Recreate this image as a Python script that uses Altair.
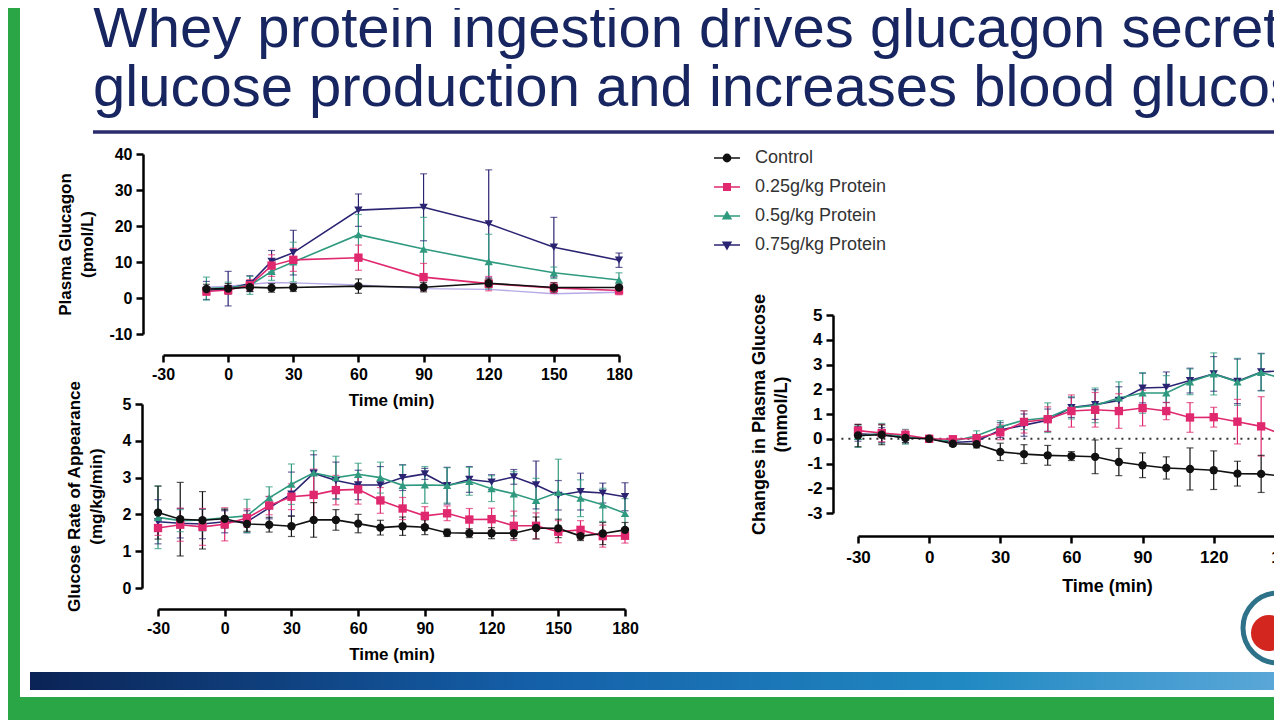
import altair as alt
import pandas as pd

FONT = "Liberation Sans"

# ---------------- data ----------------
groups = ["Control", "0.25g/kg Protein", "0.5g/kg Protein", "0.75g/kg Protein"]
group_colors = ["#111111", "#e0286f", "#2f9a7f", "#2b2473"]
group_shapes = ["circle", "square", "triangle-up", "triangle-down"]
legend_glyphs = [
    "M-1,0H1M0.28,0A0.28,0.28,0,1,1,-0.28,0A0.28,0.28,0,1,1,0.28,0Z",
    "M-1,0H1M-0.25,-0.25H0.25V0.25H-0.25Z",
    "M-1,0H1M0,-0.3L0.3,0.22H-0.3Z",
    "M-1,0H1M0,0.3L0.3,-0.22H-0.3Z",
]
time_ticks = [-30, 0, 30, 60, 90, 120, 150, 180]

title_lines = [
    "Whey protein ingestion drives glucagon secretion,",
    "glucose production and increases blood glucose",
]

# Plasma glucagon (pmol/L)
glucagon_time = [-10, 0, 10, 20, 30, 60, 90, 120, 150, 180]
glucagon_control = [2.5, 2.6, 3.0, 2.8, 2.9, 3.3, 3.0, 4.1, 2.9, 2.9]
glucagon_control_err = [1.3, 1.4, 1.2, 1.2, 1.1, 2.0, 1.3, 1.2, 1.3, 1.0]
glucagon_025 = [1.8, 2.2, 3.6, 9.0, 10.6, 11.2, 5.8, 4.0, 2.8, 2.1]
glucagon_025_err = [1.0, 1.2, 1.5, 3.0, 3.2, 3.5, 3.8, 2.0, 1.5, 1.2]
glucagon_05 = [2.6, 2.9, 3.5, 7.4, 10.0, 17.6, 13.6, 10.1, 7.0, 5.0]
glucagon_05_err = [3.2, 1.5, 2.5, 2.5, 5.5, 5.6, 8.8, 7.6, 1.6, 2.0]
glucagon_075 = [2.1, 2.6, 4.0, 10.2, 12.6, 24.4, 25.2, 20.6, 14.1, 10.5]
glucagon_075_err = [2.5, 4.8, 2.2, 3.0, 6.2, 4.5, 9.3, 15.0, 8.3, 2.0]
glucagon_faint = [3.0, 3.3, 3.8, 4.3, 4.2, 3.6, 2.6, 2.4, 1.2, 1.6]

# Glucose rate of appearance (mg/kg/min)
ra_time = [-30, -20, -10, 0, 10, 20, 30, 40, 50, 60, 70, 80, 90, 100, 110, 120, 130, 140, 150, 160, 170, 180]
ra_control = [2.05, 1.87, 1.84, 1.88, 1.74, 1.72, 1.68, 1.85, 1.85, 1.75, 1.64, 1.68, 1.65, 1.50, 1.49, 1.49, 1.49, 1.63, 1.62, 1.41, 1.48, 1.58]
ra_control_err = [0.72, 1.0, 0.78, 0.25, 0.2, 0.2, 0.28, 0.47, 0.28, 0.25, 0.2, 0.25, 0.2, 0.1, 0.12, 0.15, 0.15, 0.3, 0.25, 0.12, 0.3, 0.2]
ra_025 = [1.63, 1.72, 1.66, 1.73, 1.90, 2.24, 2.48, 2.53, 2.66, 2.68, 2.38, 2.16, 1.96, 2.03, 1.86, 1.87, 1.69, 1.69, 1.53, 1.58, 1.41, 1.42]
ra_025_err = [0.2, 0.45, 0.5, 0.45, 0.25, 0.25, 0.35, 0.7, 0.4, 0.4, 0.35, 0.3, 0.25, 0.2, 0.3, 0.3, 0.4, 0.35, 0.3, 0.25, 0.3, 0.2]
ra_05 = [1.92, 1.83, 1.85, 1.91, 1.96, 2.45, 2.82, 3.13, 3.0, 3.09, 3.0, 2.79, 2.8, 2.79, 2.9, 2.7, 2.56, 2.38, 2.6, 2.44, 2.26, 2.03]
ra_05_err = [0.85, 0.3, 0.3, 0.25, 0.45, 0.3, 0.55, 0.6, 0.58, 0.3, 0.42, 0.55, 0.5, 0.48, 0.38, 0.35, 0.6, 0.6, 0.9, 0.5, 0.45, 0.4]
ra_075 = [1.8, 1.76, 1.74, 1.8, 1.8, 2.18, 2.55, 3.12, 2.92, 2.8, 2.8, 3.0, 3.1, 2.78, 2.95, 2.88, 3.02, 2.8, 2.52, 2.62, 2.58, 2.48]
ra_075_err = [0.6, 0.4, 0.4, 0.3, 0.3, 0.3, 0.6, 0.5, 0.5, 0.4, 0.5, 0.35, 0.15, 0.5, 0.35, 0.2, 0.2, 0.65, 0.4, 0.5, 0.27, 0.38]

# Changes in plasma glucose (mmol/L)
gl_time = [-30, -20, -10, 0, 10, 20, 30, 40, 50, 60, 70, 80, 90, 100, 110, 120, 130, 140, 150]
gl_control = [0.13, 0.16, 0.03, 0.0, -0.2, -0.22, -0.53, -0.62, -0.67, -0.7, -0.73, -0.94, -1.07, -1.18, -1.22, -1.27, -1.41, -1.42, -1.52]
gl_control_err = [0.45, 0.4, 0.2, 0.05, 0.1, 0.15, 0.35, 0.38, 0.4, 0.18, 0.68, 0.55, 0.5, 0.45, 0.85, 0.78, 0.5, 0.75, 0.5]
gl_025 = [0.33, 0.23, 0.15, 0.0, -0.02, 0.02, 0.26, 0.68, 0.79, 1.12, 1.17, 1.12, 1.24, 1.12, 0.86, 0.87, 0.69, 0.5, 0.12]
gl_025_err = [0.25, 0.35, 0.2, 0.05, 0.1, 0.12, 0.3, 0.45, 0.5, 0.65, 0.7, 0.7, 0.72, 0.35, 0.6, 0.4, 0.9, 1.2, 0.4]
gl_05 = [0.1, 0.22, 0.08, 0.0, -0.1, 0.12, 0.48, 0.75, 0.85, 1.25, 1.35, 1.65, 1.85, 1.85, 2.3, 2.62, 2.3, 2.68, 2.4]
gl_05_err = [0.45, 0.4, 0.3, 0.05, 0.15, 0.2, 0.25, 0.38, 0.6, 0.45, 0.7, 0.65, 0.82, 0.7, 0.52, 0.85, 0.95, 0.75, 0.6]
gl_075 = [0.2, 0.15, 0.05, 0.0, -0.15, -0.1, 0.35, 0.55, 0.75, 1.26, 1.38, 1.55, 2.05, 2.08, 2.35, 2.62, 2.32, 2.7, 2.75]
gl_075_err = [0.3, 0.3, 0.2, 0.05, 0.12, 0.15, 0.3, 0.45, 0.45, 0.4, 0.6, 0.55, 0.6, 0.62, 0.5, 0.7, 0.9, 0.75, 0.7]

# ---------------- helpers ----------------
draw_order = [3, 2, 1, 0]  # control drawn last (on top)


def long_df(time, series, errors):
    rows = []
    for i in draw_order:
        for t, v, e in zip(time, series[i], errors[i]):
            rows.append({"t": t, "group": groups[i], "value": v, "lo": v - e, "hi": v + e})
    return pd.DataFrame(rows)


color_scale = alt.Scale(domain=groups, range=group_colors)
shape_scale = alt.Scale(domain=groups, range=group_shapes)


def make_axis(orient, values, title, offset, lab, tit, title_pad, label_pad=4):
    return alt.Axis(
        orient=orient, values=values, title=title, offset=offset, grid=False, zindex=1,
        domainColor="black", domainWidth=2.5, tickColor="black", tickWidth=2.5, tickSize=7,
        labelFont=FONT, labelFontSize=lab, labelFontWeight="bold", labelColor="black",
        labelFlush=False, labelOverlap=False, labelPadding=label_pad,
        labelExpr="replace(datum.label, '\u2212', '-')",
        titleFont=FONT, titleFontSize=tit, titleFontWeight="bold", titleColor="black",
        titlePadding=title_pad, titleLineHeight=22,
    )


def panel(df, x_range, y_domain, y_range, y_ticks, y_title, y_off, x_off, lab, tit, ypad, xpad, xlpad=4):
    xs = alt.Scale(domain=[-30, 180], range=x_range, nice=False, zero=False)
    ys = alt.Scale(domain=y_domain, range=y_range, nice=False, zero=False)
    xax = make_axis("bottom", time_ticks, "Time (min)", x_off, lab, tit, xpad, xlpad)
    yax = make_axis("left", y_ticks, y_title, y_off, lab, tit, ypad)
    X = alt.X("t:Q", scale=xs, axis=xax)
    col = alt.Color("group:N", scale=color_scale, legend=None)
    base = alt.Chart(df)
    bars = base.mark_rule(strokeWidth=1.2).encode(
        x=X, y=alt.Y("lo:Q", scale=ys, axis=yax), y2="hi:Q", color=col)
    cap_lo = base.mark_tick(orient="horizontal", size=7, thickness=1.2).encode(
        x=X, y=alt.Y("lo:Q", scale=ys, axis=yax), color=col)
    cap_hi = base.mark_tick(orient="horizontal", size=7, thickness=1.2).encode(
        x=X, y=alt.Y("hi:Q", scale=ys, axis=yax), color=col)
    line = base.mark_line(strokeWidth=1.6).encode(
        x=X, y=alt.Y("value:Q", scale=ys, axis=yax), color=col)
    pts = base.mark_point(filled=True, size=70, opacity=1).encode(
        x=X, y=alt.Y("value:Q", scale=ys, axis=yax), color=col,
        shape=alt.Shape("group:N", scale=shape_scale, legend=None))
    return [bars, cap_lo, cap_hi, line, pts], xs, ys, xax, yax


# Panel 1: plasma glucagon
df1 = long_df(glucagon_time,
              [glucagon_control, glucagon_025, glucagon_05, glucagon_075],
              [glucagon_control_err, glucagon_025_err, glucagon_05_err, glucagon_075_err])
l1, xs1, ys1, xax1, yax1 = panel(df1, [143, 599], [-10, 40], [326, 146], [-10, 0, 10, 20, 30, 40],
                                 ["Plasma Glucagon", "(pmol/L)"], -123, -342, 16, 17, 12, 10)
faint_df = pd.DataFrame({"t": glucagon_time, "value": glucagon_faint})
faint = alt.Chart(faint_df).mark_line(color="#b7aae6", strokeWidth=1.4).encode(
    x=alt.X("t:Q", scale=xs1, axis=xax1), y=alt.Y("value:Q", scale=ys1, axis=yax1))
p1 = alt.layer(faint, *l1)

# Panel 2: glucose rate of appearance
df2 = long_df(ra_time, [ra_control, ra_025, ra_05, ra_075],
              [ra_control_err, ra_025_err, ra_05_err, ra_075_err])
l2, xs2, ys2, xax2, yax2 = panel(df2, [138, 605], [0, 5], [580, 396], [0, 1, 2, 3, 4, 5],
                                 ["Glucose Rate of Appearance", "(mg/kg/min)"], -122, -88, 16, 17, 17, 10)
p2 = alt.layer(*l2)

# Panel 3: changes in plasma glucose
df3 = long_df(gl_time, [gl_control, gl_025, gl_05, gl_075],
              [gl_control_err, gl_025_err, gl_05_err, gl_075_err])
l3, xs3, ys3, xax3, yax3 = panel(df3, [838, 1336], [-3, 5], [505, 307], [-3, -2, -1, 0, 1, 2, 3, 4, 5],
                                 ["Changes in Plasma Glucose", "(mmol/L)"], -813, -161, 17, 18, 16, 12, 6)
zero_df = pd.DataFrame({"x": [-37], "x2": [185], "y": [0]})
zero = alt.Chart(zero_df).mark_rule(strokeDash=[2, 5], strokeWidth=2, color="#333333").encode(
    x=alt.X("x:Q", scale=xs3, axis=xax3), x2="x2:Q", y=alt.Y("y:Q", scale=ys3, axis=yax3))
p3 = alt.layer(zero, *l3)

# Legend (line + marker glyphs)
leg = alt.Legend(title=None, orient="none", legendX=693, legendY=136, padding=0,
                 symbolSize=676, symbolStrokeWidth=1.5, symbolOpacity=1,
                 labelFont=FONT, labelFontSize=18, labelColor="#333333",
                 labelOffset=14, rowPadding=6)
legend_layer = alt.Chart(pd.DataFrame({"group": groups})).mark_point(
    filled=True, opacity=0, strokeWidth=1.5).encode(
    fill=alt.Fill("group:N", scale=color_scale, legend=leg),
    stroke=alt.Stroke("group:N", scale=color_scale, legend=leg),
    shape=alt.Shape("group:N", scale=alt.Scale(domain=groups, range=legend_glyphs), legend=leg),
)

# Slide decorations
one = pd.DataFrame({"k": [0]})
sheet = alt.Chart(one).mark_rect(color="white").encode(
    x=alt.value(0), x2=alt.value(1254), y=alt.value(0), y2=alt.value(689))
heading = alt.Chart(one).mark_text(
    align="left", baseline="top", font=FONT, fontSize=58, lineHeight=59, color="#172560"
).encode(x=alt.value(73), y=alt.value(-7), text=alt.value(title_lines))
underline = alt.Chart(one).mark_rule(color="#2b2c6e", strokeWidth=3.5).encode(
    x=alt.value(73), x2=alt.value(1254), y=alt.value(124))
bar = alt.Chart(one).mark_rect(
    color=alt.Gradient(gradient="linear", x1=0, x2=1, y1=0, y2=0, stops=[
        alt.GradientStop(color="#0b2356", offset=0),
        alt.GradientStop(color="#145fa8", offset=0.4),
        alt.GradientStop(color="#2189c2", offset=0.75),
        alt.GradientStop(color="#5aa7d8", offset=1),
    ])).encode(x=alt.value(10), x2=alt.value(1254), y=alt.value(664), y2=alt.value(682))
ring = alt.Chart(one).mark_point(shape="circle", size=4900, filled=False, stroke="#2e7289",
                                 strokeWidth=5, fill="white", fillOpacity=1, opacity=1).encode(
    x=alt.value(1258), y=alt.value(620))
drop = alt.Chart(one).mark_point(shape="circle", size=1300, filled=True, color="#d3261f",
                                 opacity=1).encode(x=alt.value(1249), y=alt.value(625))

chart = alt.layer(
    sheet, heading, underline, bar, ring, drop, p1, p2, p3, legend_layer
).resolve_scale(
    x="independent", y="independent", color="independent", shape="independent",
    fill="independent", stroke="independent"
).properties(
    width=1254, height=689,
    autosize=alt.AutoSizeParams(type="none"),
    padding={"left": 12, "right": 0, "top": 0, "bottom": 23},
    background="#2ba646",
).configure_view(stroke=None)

chart.save("out.html", embed_options={"renderer": "svg", "actions": False})
